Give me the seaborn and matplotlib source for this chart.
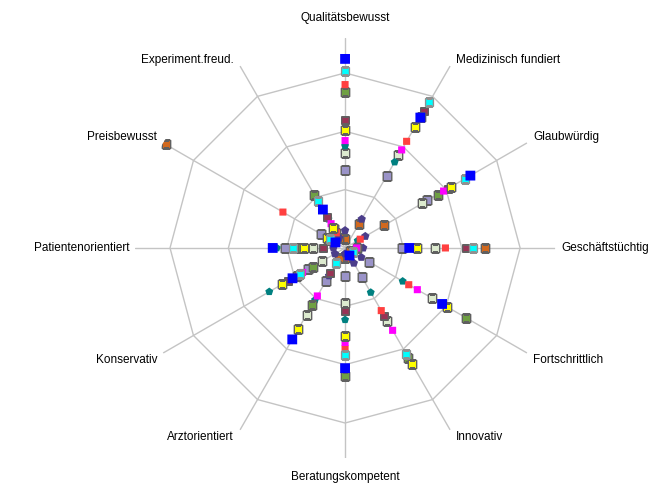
import numpy as np
import pandas as pd
import seaborn as sns
import matplotlib.pyplot as plt

sns.set_style("white")
plt.rcParams['font.family'] = ['Liberation Sans', 'DejaVu Sans']

# axis labels, clockwise from the top
categories = ['Qualitätsbewusst', 'Medizinisch fundiert', 'Glaubwürdig', 'Geschäftstüchtig',
              'Fortschrittlich', 'Innovativ', 'Beratungskompetent', 'Arztorientiert',
              'Konservativ', 'Patientenorientiert', 'Preisbewusst', 'Experiment.freud.']

# values per series (one per axis, same order as categories)
lavender = [1.34, 1.43, 1.63, 0.97, 0.48, 0.57, 0.48, 0.65, 0.73, 1.03, 0.47, 0.38]
lightgreen = [1.63, 1.83, 1.53, 1.54, 1.73, 1.44, 0.95, 1.32, 0.46, 0.55, 0.27, 0.30]
orange = [0.15, 0.48, 0.78, 2.40, 0.10, 0.15, 0.17, 0.20, 0.96, 0.85, 3.55, 0.20]
purple = [0.30, 0.57, 0.40, 0.31, 0.32, 0.30, 0.10, 0.55, 0.20, 0.20, 0.20, 0.20]
teal = [1.75, 1.70, 0.25, 0.20, 1.14, 0.88, 1.23, 1.03, 1.50, 1.17, 0.30, 0.57]
maroon = [2.20, 2.71, 2.03, 2.08, 0.15, 1.34, 1.08, 0.50, 1.12, 0.37, 0.30, 0.62]
green = [2.67, 2.60, 1.83, 0.20, 2.39, 2.17, 2.20, 1.12, 0.64, 0.74, 0.30, 1.05]
red = [2.80, 2.11, 0.30, 1.72, 1.26, 1.24, 1.73, 0.30, 0.90, 0.90, 1.23, 0.30]
magenta = [1.84, 1.94, 1.95, 0.20, 1.43, 1.63, 1.62, 0.95, 0.84, 0.90, 0.30, 0.48]
yellow = [2.02, 2.39, 2.10, 1.24, 2.01, 2.30, 1.51, 1.61, 1.24, 0.70, 0.35, 0.40]
cyan = [3.04, 2.88, 2.37, 2.20, 0.15, 2.09, 1.84, 0.30, 0.90, 0.90, 0.30, 0.92]
blue = [3.24, 2.58, 2.48, 1.10, 1.92, 0.15, 2.06, 1.81, 1.04, 1.24, 0.19, 0.76]

series = {'lavender': lavender, 'lightgreen': lightgreen, 'orange': orange, 'purple': purple,
          'teal': teal, 'maroon': maroon, 'green': green, 'red': red, 'magenta': magenta,
          'yellow': yellow, 'cyan': cyan, 'blue': blue}

# look of each series: (face colour, edge colour, marker, size, edge width)
styles = {
    'lavender': ('#9A93C8', '#606060', 's', 38, 1.0),
    'lightgreen': ('#DDEBCF', '#606060', 's', 36, 1.0),
    'orange': ('#D2691E', '#606060', 's', 36, 1.0),
    'purple': ('#4B3D8A', 'none', 'p', 40, 0),
    'teal': ('#008080', 'none', 'p', 36, 0),
    'maroon': ('#993355', '#606060', 's', 30, 1.0),
    'green': ('#6FA043', '#606060', 's', 36, 1.0),
    'red': ('#FF4040', 'none', 's', 26, 0),
    'magenta': ('#FF00FF', 'none', 's', 26, 0),
    'yellow': ('#FFFF00', '#606060', 's', 36, 1.0),
    'cyan': ('#00FFFF', '#909090', 's', 32, 1.0),
    'blue': ('#0000FF', 'none', 's', 50, 0),
}

rings = [1, 2, 3]
r_axis = 3.6

n = len(categories)
angles = np.arange(n) * 2 * np.pi / n

rows = []
for name, vals in series.items():
    for a, v in zip(angles, vals):
        rows.append({'series': name, 'theta': a, 'r': v})
df = pd.DataFrame(rows)

fig = plt.figure(figsize=(6.69, 4.84), dpi=100)
ax = fig.add_axes([0.2018, 0.0537, 0.628, 0.868], projection='polar')
ax.set_theta_zero_location('N')
ax.set_theta_direction(-1)
ax.grid(False)
ax.spines['polar'].set_visible(False)
ax.set_xticks([])
ax.set_yticks([])
ax.set_ylim(0, r_axis)

# spokes and polygon rings
for a in angles:
    ax.plot([a, a], [0, r_axis], color='#C4C4C4', lw=1, zorder=1)
closed = np.append(angles, angles[0])
for rr in rings:
    ax.plot(closed, [rr] * (n + 1), color='#C4C4C4', lw=1, zorder=1)

for name in series:
    fc, ec, mk, sz, lw = styles[name]
    sns.scatterplot(data=df[df['series'] == name], x='theta', y='r', ax=ax,
                    color=fc, edgecolor=ec, marker=mk, s=sz, linewidth=lw,
                    legend=False, zorder=3)
for coll in ax.collections:
    coll.set_joinstyle('miter')
    coll.set_snap(False)
ax.set_xlabel('')
ax.set_ylabel('')

# category labels at the end of each spoke
for a, lab in zip(angles, categories):
    s, c = np.sin(a), np.cos(a)
    if abs(s) < 1e-6:
        ha = 'center'
        dx = 0
        dy = 20 if c > 0 else -19
    else:
        ha = 'left' if s > 0 else 'right'
        dx = 6 if s > 0 else -6
        dy = 0 if abs(c) < 1e-6 else (6 if c > 0 else -7)
    ax.annotate(lab, xy=(a, r_axis), xytext=(dx, dy), textcoords='offset pixels',
                ha=ha, va='center', fontsize=8.5, color='black', annotation_clip=False)

plt.savefig('out.png', dpi=100)
plt.close()
